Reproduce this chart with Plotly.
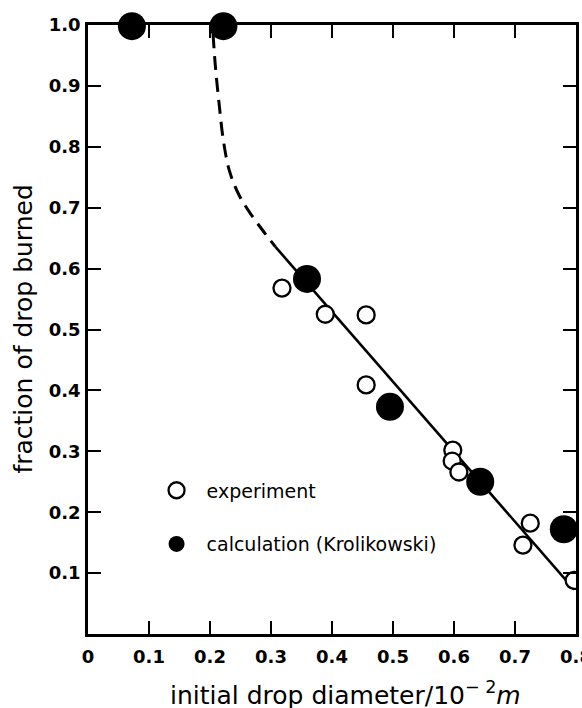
import plotly.graph_objects as go

# ---- data ----
exp_x = [0.318, 0.389, 0.456, 0.456, 0.598, 0.597, 0.608, 0.725, 0.713, 0.797]
exp_y = [0.568, 0.525, 0.524, 0.409, 0.302, 0.284, 0.266, 0.182, 0.146, 0.088]

calc_x = [0.072, 0.222, 0.359, 0.495, 0.643, 0.780]
calc_y = [0.998, 0.998, 0.583, 0.373, 0.250, 0.172]

dash_x = [0.205, 0.209, 0.215, 0.222, 0.232, 0.248, 0.268, 0.290, 0.307]
dash_y = [0.985, 0.930, 0.870, 0.810, 0.760, 0.720, 0.688, 0.658, 0.636]

solid_x = [0.307, 0.797]
solid_y = [0.636, 0.073]

x_ticks = [0, 0.1, 0.2, 0.3, 0.4, 0.5, 0.6, 0.7, 0.8]
x_ticktext = ["0", "0.1", "0.2", "0.3", "0.4", "0.5", "0.6", "0.7", "0.8"]
y_ticks = [0.1, 0.2, 0.3, 0.4, 0.5, 0.6, 0.7, 0.8, 0.9, 1.0]
y_ticktext = ["0.1", "0.2", "0.3", "0.4", "0.5", "0.6", "0.7", "0.8", "0.9", "1.0"]

FONT = "DejaVu Sans"

fig = go.Figure()

fig.add_trace(go.Scatter(
    x=dash_x, y=dash_y, mode="lines", line_shape="spline",
    line=dict(color="black", width=3, dash="14px,8px"),
    showlegend=False, hoverinfo="skip"))
fig.add_trace(go.Scatter(
    x=solid_x, y=solid_y, mode="lines",
    line=dict(color="black", width=2.6),
    showlegend=False, hoverinfo="skip"))

fig.add_trace(go.Scatter(
    x=calc_x, y=calc_y, mode="markers", name="calculation (Krolikowski)",
    marker=dict(symbol="circle", size=28, color="black",
                line=dict(color="black", width=0)),
    cliponaxis=False, legendgroup="calc", legendrank=2))

fig.add_trace(go.Scatter(
    x=exp_x, y=exp_y, mode="markers", name="experiment",
    marker=dict(symbol="circle", size=17, color="white",
                line=dict(color="black", width=2.3)),
    cliponaxis=True, legendgroup="exp", legendrank=1))

axis_common = dict(
    showline=True, linecolor="black", linewidth=2.5, mirror="ticks",
    ticks="inside", ticklen=13, tickwidth=2, tickcolor="black",
    showgrid=False, zeroline=False, ticklabeloverflow="allow",
    automargin=False,
    tickfont=dict(family=FONT, size=18, color="black", weight="bold"),
)

fig.update_xaxes(range=[0, 0.8], tickvals=x_ticks, ticktext=x_ticktext,
                 ticklabelstandoff=5, **axis_common)
fig.update_yaxes(range=[0, 1.0], tickvals=y_ticks, ticktext=y_ticktext,
                 ticklabelstandoff=1, **axis_common)

fig.add_annotation(
    text="initial drop diameter/10<sup>\u2212 2</sup><i>m</i>",
    xref="paper", yref="paper", x=0.527, y=-0.068, xanchor="center", yanchor="top",
    showarrow=False, font=dict(family=FONT, size=25, color="black"))
fig.add_annotation(
    text="fraction of drop burned", textangle=-90,
    xref="paper", yref="paper", x=-0.133, y=0.5, xanchor="center", yanchor="middle",
    showarrow=False, font=dict(family=FONT, size=25, color="black"))

fig.update_layout(
    width=582, height=708,
    margin=dict(l=88, r=6, t=25, b=74, autoexpand=False),
    paper_bgcolor="white", plot_bgcolor="white",
    showlegend=True,
    legend=dict(x=0.12, y=0.267, xanchor="left", yanchor="top",
                bgcolor="rgba(0,0,0,0)", borderwidth=0,
                itemwidth=50, tracegroupgap=26,
                font=dict(family=FONT, size=19, color="black")),
)

fig.write_html("out.html")
